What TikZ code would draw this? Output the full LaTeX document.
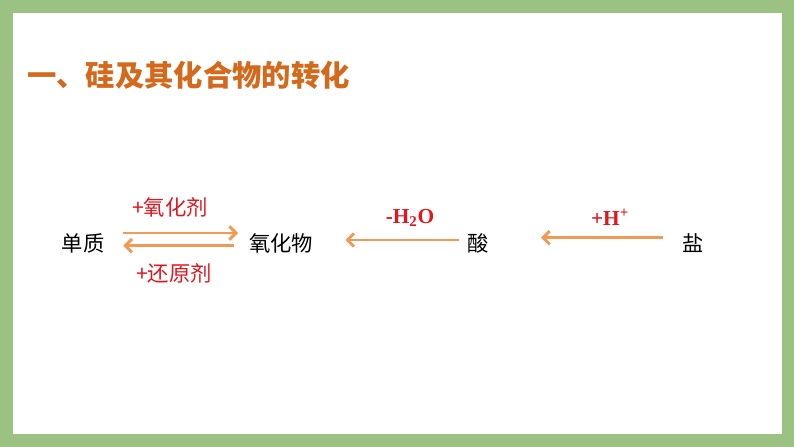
\documentclass[tikz,border=0pt]{standalone}
\usepackage{fontspec}
\setmainfont{Liberation Serif}
\newfontfamily\cjk{Noto Sans CJK SC}
\usetikzlibrary{arrows.meta}
\definecolor{frame}{HTML}{9BC283}
\definecolor{titleor}{HTML}{D4691C}
\definecolor{arrowor}{HTML}{F29A55}
\definecolor{labred}{HTML}{E2161C}
\tikzset{
  word/.style={font=\cjk\fontsize{16}{18}\selectfont, inner sep=0pt},
  cond/.style={text=labred, font=\cjk\fontsize{16}{18}\selectfont, inner sep=0pt},
  formula/.style={text=labred, font=\bfseries\fontsize{16}{18}\selectfont, inner sep=0pt},
  turn/.style={draw=arrowor, line width=2.2pt, -{Straight Barb[length=5pt,width=10pt]}}
}

\begin{document}
\begin{tikzpicture}[x=0.75pt,y=-0.75pt]
                %page frame, sizes in pixels
                \useasboundingbox (0,0) rectangle (794,447);
                \fill[frame] (0,0) rectangle (794,447);
                \fill[white] (13,13) rectangle (782,434);

                %heading
                \node[anchor=west, inner sep=0pt, text=titleor, font=\cjk\bfseries\fontsize{22}{24}\selectfont] (head) at (27,75) {一、硅及其化合物的转化};

                %the four kinds of substance, define nodes first
                \node[word] (elem) at (83,243) {单质};
                \node[word] (oxide) at (281,243) {氧化物};
                \node[word] (acid) at (478,243) {酸};
                \node[word] (salt) at (693,243) {盐};

                %element and oxide go both ways
                \coordinate (e1) at ([xshift=14pt,yshift=7.5pt]elem.east);
                \coordinate (o1) at ([xshift=-8pt,yshift=7.5pt]oxide.west);
                \coordinate (o2) at ([xshift=-11pt,yshift=-2pt]oxide.west);
                \coordinate (e2) at ([xshift=14pt,yshift=-2pt]elem.east);
                \draw[turn] (e1) -- (o1);
                \draw[turn] (o2) -- (e2);

                %acid gives the oxide, salt gives the acid
                \draw[turn] ([xshift=-6pt,yshift=2.25pt]acid.west) -- ([xshift=24pt,yshift=2.25pt]oxide.east);
                \draw[turn] ([xshift=-14pt,yshift=4pt]salt.west) -- ([xshift=39pt,yshift=4pt]acid.east);

                %label the arrows
                \node[cond] (ox) at (170,207) {+氧化剂};
                \node[cond] (red) at (174,273) {+还原剂};
                \node[formula] (water) at (410,218) {-H\textsubscript{2}O};
                \node[formula] (proton) at (610,217) {+H\textsuperscript{+}};
            \end{tikzpicture}
\end{document}
